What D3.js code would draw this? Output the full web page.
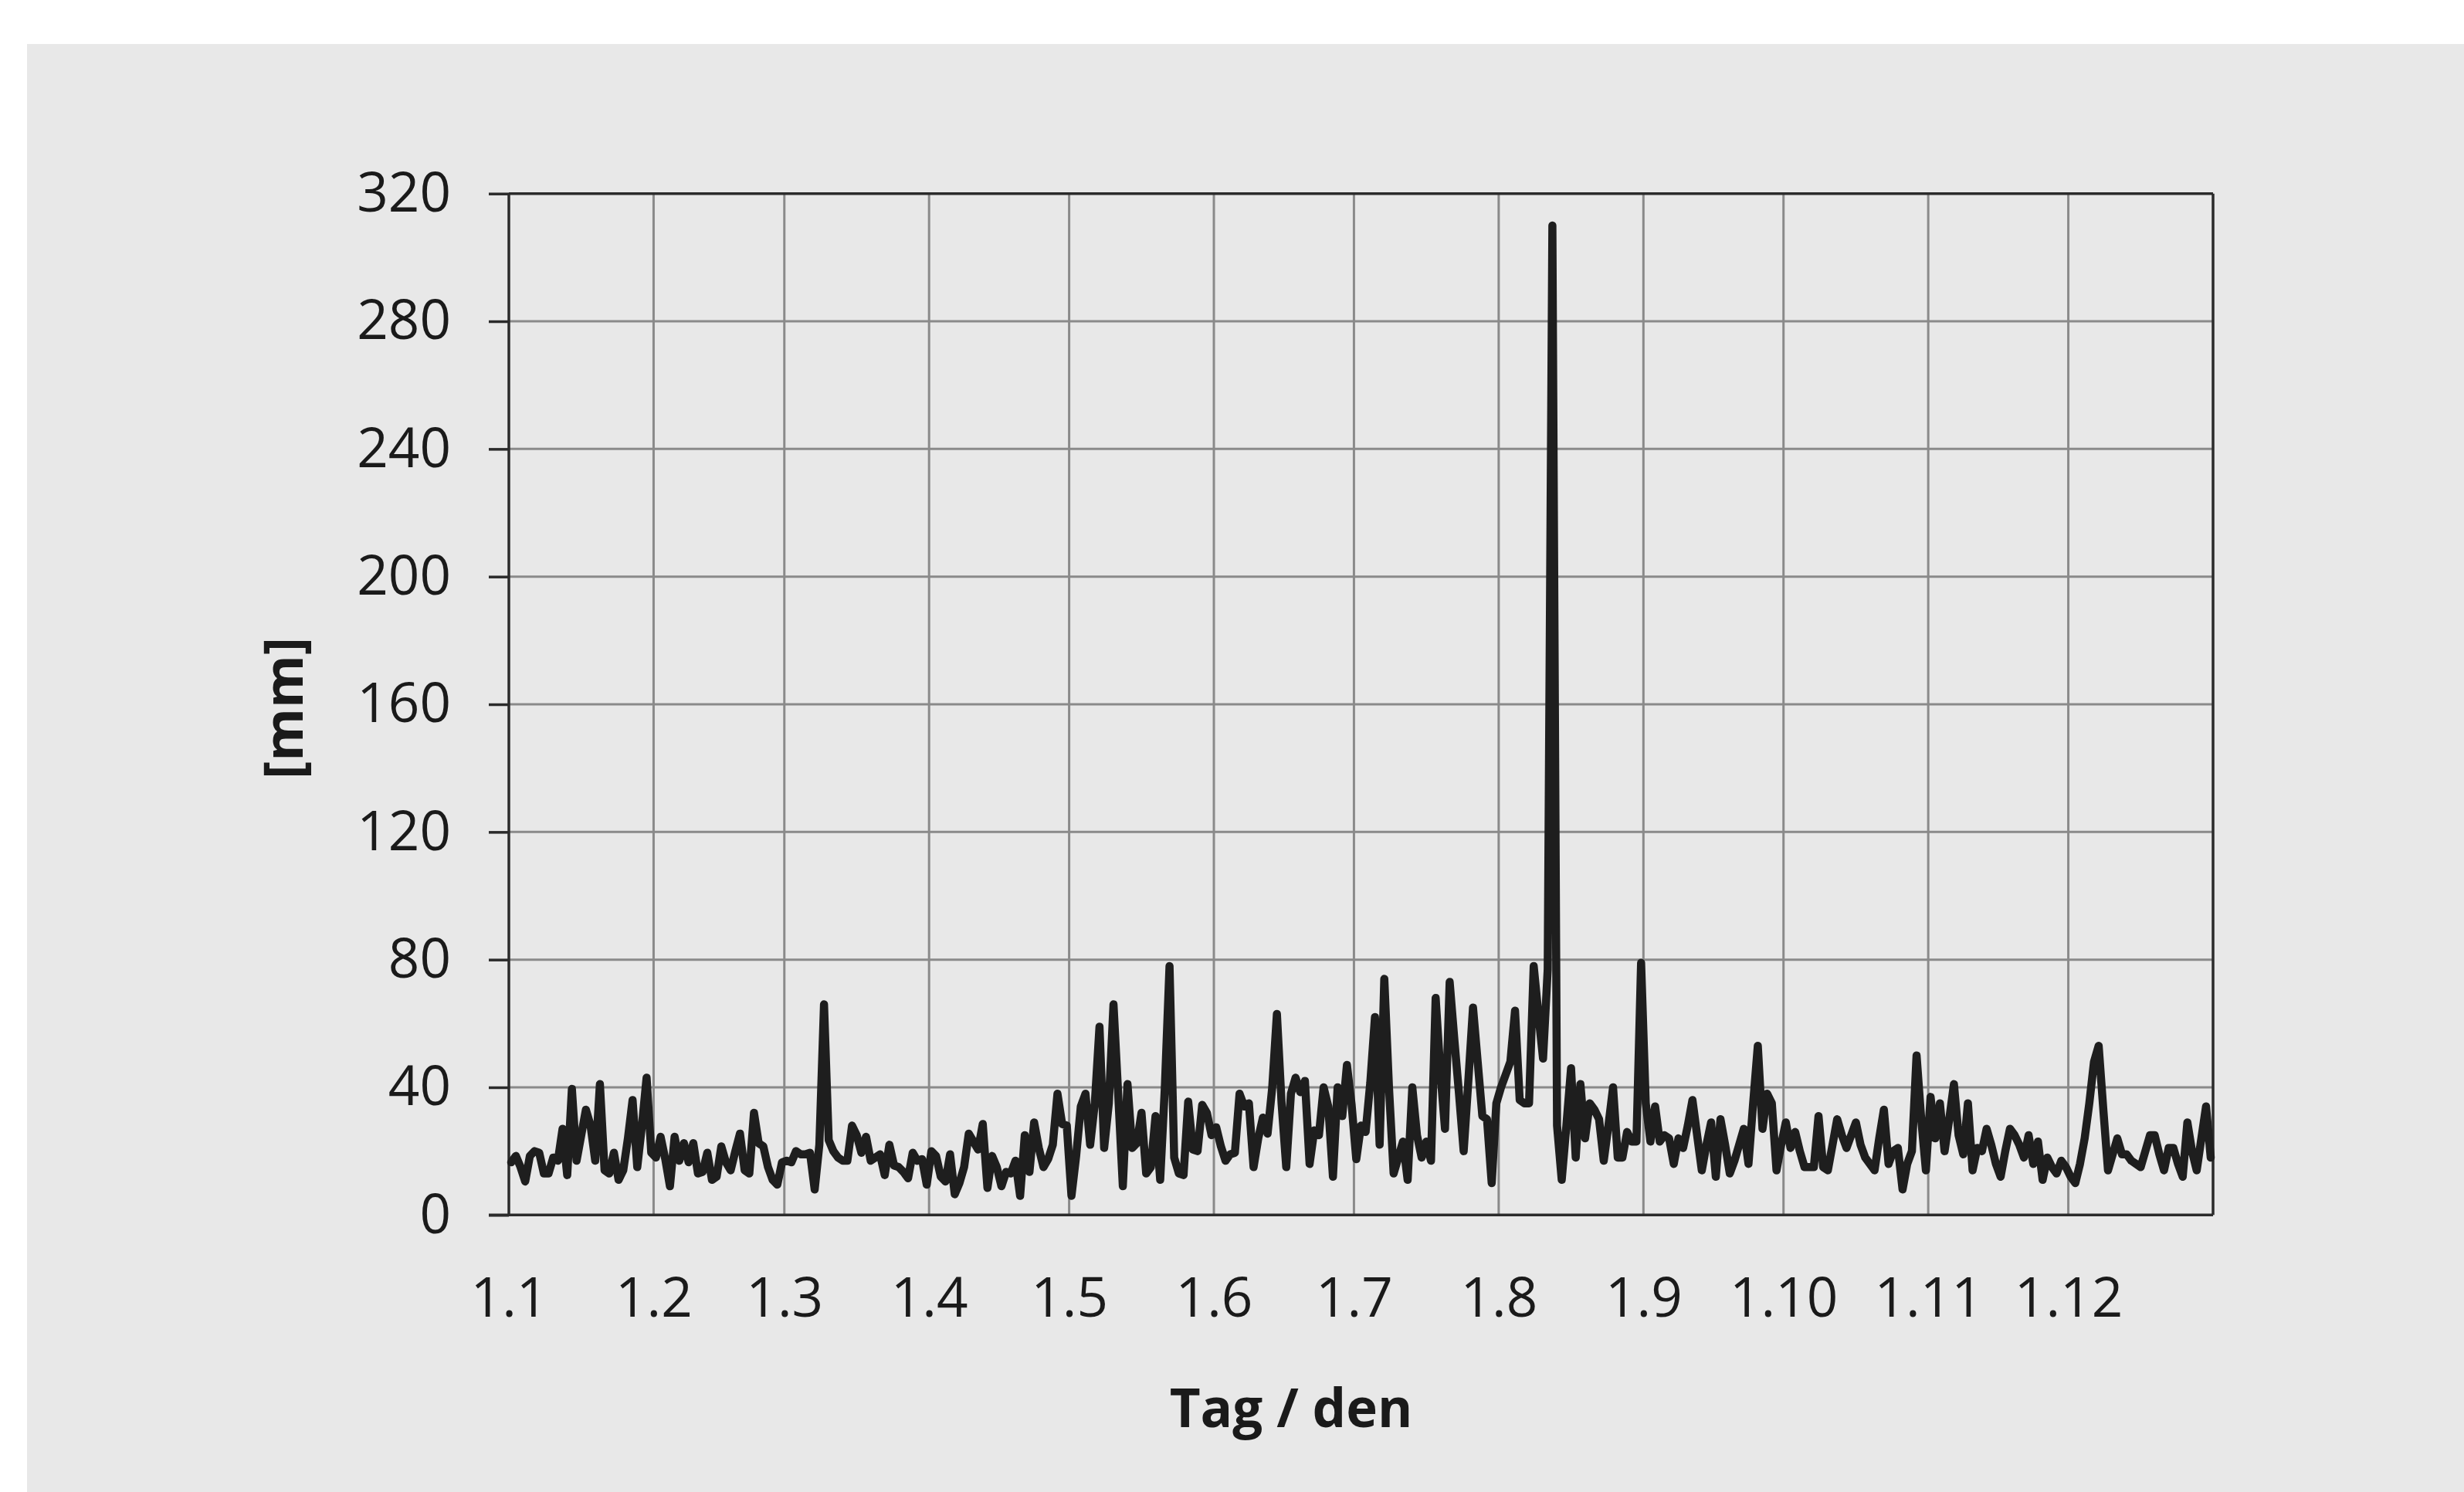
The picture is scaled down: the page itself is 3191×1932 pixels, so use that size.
<!DOCTYPE html>
<html>
<head>
<meta charset="utf-8">
<script src="https://cdn.jsdelivr.net/npm/d3@7"></script>
<style>
  html, body { margin: 0; padding: 0; background: #ffffff; }
  svg { display: block; }
  text { font-family: "Open Sans", "Noto Sans", sans-serif; fill: #1a1a1a; }
</style>
</head>
<body>
<svg id="chart" width="3191" height="1932"></svg>
<script>
// ---- data (daily values, mm) ----
const jan = [16.5,18.5,15,10.5,18.5,20,19.5,13,13,18,17,27,12.5,39.5,17,25,33,28,17,41,14,13,19.5,11,14,24,36,15,28,43,19.5];
const feb = [18,24.5,17.5,9,24.5,17,22.5,16.5,22.5,13,13.5,19.5,11,12,21.5,16.5,14,20,25.5,14,13,32,22.5,21.5,15,11,9.5,16.5];
const mar = [17,16.5,20,19,19,19.5,8,22,66,23.5,20,18,17,17,28,25,19.5,24.5,17,18,19,12.5,22,15.5,15,13.5,11.5,19.5,17,17.5,9.5];
const apr = [20,18.5,12,10.5,19,6.5,10,15,25.5,23,20.5,28.5,8.5,18.5,15,9,13.5,13,17,6,25,13.5,29,21,15,17.5,22,38,28.5,28];
const may = [6,18.5,34,38,22,35,59,21,35,66,38,9,41,21,22.5,32,13,15,31,11,40,78,18,13,12.5,35.5,20.5,20,34.5,32,25];
const jun = [27.5,21.5,17,19,19.5,38,34,35,15,24,30.5,25.5,40,63,35,15,38,43,38.5,42,16,26.5,25,40,34,12,40,31,47,34.5];
const jul = [17.5,28,26,41.5,62,22,74,40,13,18,23,11,40,25,18,23,17,68,45,27,73,55,38,20,42,65,48,31,30,10,35];
const aug = [40,44,48,64,36,35,35,78,63,49,77,310,28,11,28,46,18,41,24,35,33,30,17,28,40,18,18,26,23,23,79];
const sep = [35,23,34,23,25,24,16,24,21,28,36,25,14,22,29,12,30,22,13,17,22,27,16,35,53,27,38,35,14,22];
const oct = [29,21,26,20,15,15,15,31,15,14,22,30,25,21,25,29,22,18,16,14,24,33,16,20,21,8,16,20,50,30,14];
const nov = [37,24,35,20,30,41,25,19,35,14,21,20,27,22,16,12,20,27,25,22,18,25,16,23,11,18,15,13,17,15];
const dec = [12,10,16,24,35,48,53,33,14,19,24,19,19,17,16,15,20,25,25,19,14,21,21,16,12,29,20,14,24,34,18];

const monthLabels = ["1.1","1.2","1.3","1.4","1.5","1.6","1.7","1.8","1.9","1.10","1.11","1.12"];
const monthStartDays = [0,31,59,90,120,151,181,212,243,273,304,334];
const yTicks = [0,40,80,120,160,200,240,280,320];
const xTitle = "Tag / den";
const yTitle = "[mm]";

const values = [].concat(jan,feb,mar,apr,may,jun,jul,aug,sep,oct,nov,dec);
const series = values.map((v, i) => ({ day: i, value: v }));

// ---- layout ----
const W = 3191, H = 1932;
const plotL = 659, plotR = 2866, plotT = 250.7, plotB = 1573.3;
const tickLen = 26;

const svg = d3.select("#chart");

svg.append("rect").attr("x", 0).attr("y", 0).attr("width", W).attr("height", H).attr("fill", "#ffffff");
svg.append("rect").attr("x", 35).attr("y", 57).attr("width", W - 35).attr("height", H - 57).attr("fill", "#e8e8e8");

const x = d3.scaleLinear().domain([0, 365]).range([plotL, plotR]);
const y = d3.scaleLinear().domain([0, 320]).range([plotB, plotT]);

// gridlines
const grid = svg.append("g");
grid.selectAll("line.h").data(yTicks.filter(t => t > 0 && t < 320)).join("line")
  .attr("class", "h")
  .attr("x1", x(0)).attr("x2", x(365))
  .attr("y1", d => y(d)).attr("y2", d => y(d))
  .attr("stroke", "#8a8a8a").attr("stroke-width", 3);
grid.selectAll("line.v").data(monthStartDays.filter(d => d > 0)).join("line")
  .attr("class", "v")
  .attr("x1", d => x(d)).attr("x2", d => x(d))
  .attr("y1", y(0)).attr("y2", y(320))
  .attr("stroke", "#8a8a8a").attr("stroke-width", 3);

// y axis with ticks and labels
const yAxis = d3.axisLeft(y).tickValues(yTicks).tickSize(tickLen).tickSizeOuter(0).tickPadding(49);
const gy = svg.append("g").attr("transform", `translate(${plotL},0)`).call(yAxis);
gy.select(".domain").remove();
gy.selectAll(".tick line").attr("stroke", "#2b2b2b").attr("stroke-width", 3.5);
gy.selectAll(".tick text")
  .attr("font-family", '"Open Sans", sans-serif')
  .attr("font-size", 71).attr("fill", "#1a1a1a");

// x axis labels
const xAxis = d3.axisBottom(x).tickValues(monthStartDays).tickFormat((d, i) => monthLabels[i])
  .tickSize(0).tickSizeOuter(0).tickPadding(81);
const gx = svg.append("g").attr("transform", `translate(0,${plotB})`).call(xAxis);
gx.select(".domain").remove();
gx.selectAll(".tick text")
  .attr("font-family", '"Open Sans", sans-serif')
  .attr("font-size", 71).attr("fill", "#1a1a1a");

// frame: top & right border, left & bottom axis lines
const frame = svg.append("g").attr("stroke", "#2b2b2b").attr("stroke-width", 3.5).attr("fill", "none");
frame.append("line").attr("x1", x(0)).attr("x2", x(365)).attr("y1", y(320)).attr("y2", y(320));
frame.append("line").attr("x1", x(365)).attr("x2", x(365)).attr("y1", y(320)).attr("y2", y(0));
frame.append("line").attr("x1", x(0)).attr("x2", x(0)).attr("y1", y(320)).attr("y2", y(0));
frame.append("line").attr("x1", x(0) - tickLen).attr("x2", x(365)).attr("y1", y(0)).attr("y2", y(0));

// data line
const line = d3.line().x(d => x(d.day + 0.5)).y(d => y(d.value));
svg.append("path").datum(series)
  .attr("d", line)
  .attr("fill", "none")
  .attr("stroke", "#1e1e1e")
  .attr("stroke-width", 10.5)
  .attr("stroke-linejoin", "round")
  .attr("stroke-linecap", "round");

// titles
svg.append("text").attr("x", 1672).attr("y", 1848)
  .attr("text-anchor", "middle").attr("font-size", 69).attr("font-weight", "bold")
  .text(xTitle);
svg.append("text").attr("transform", "translate(392,917) rotate(-90)")
  .attr("text-anchor", "middle").attr("font-size", 70).attr("font-weight", "bold")
  .text(yTitle);
</script>
</body>
</html>
